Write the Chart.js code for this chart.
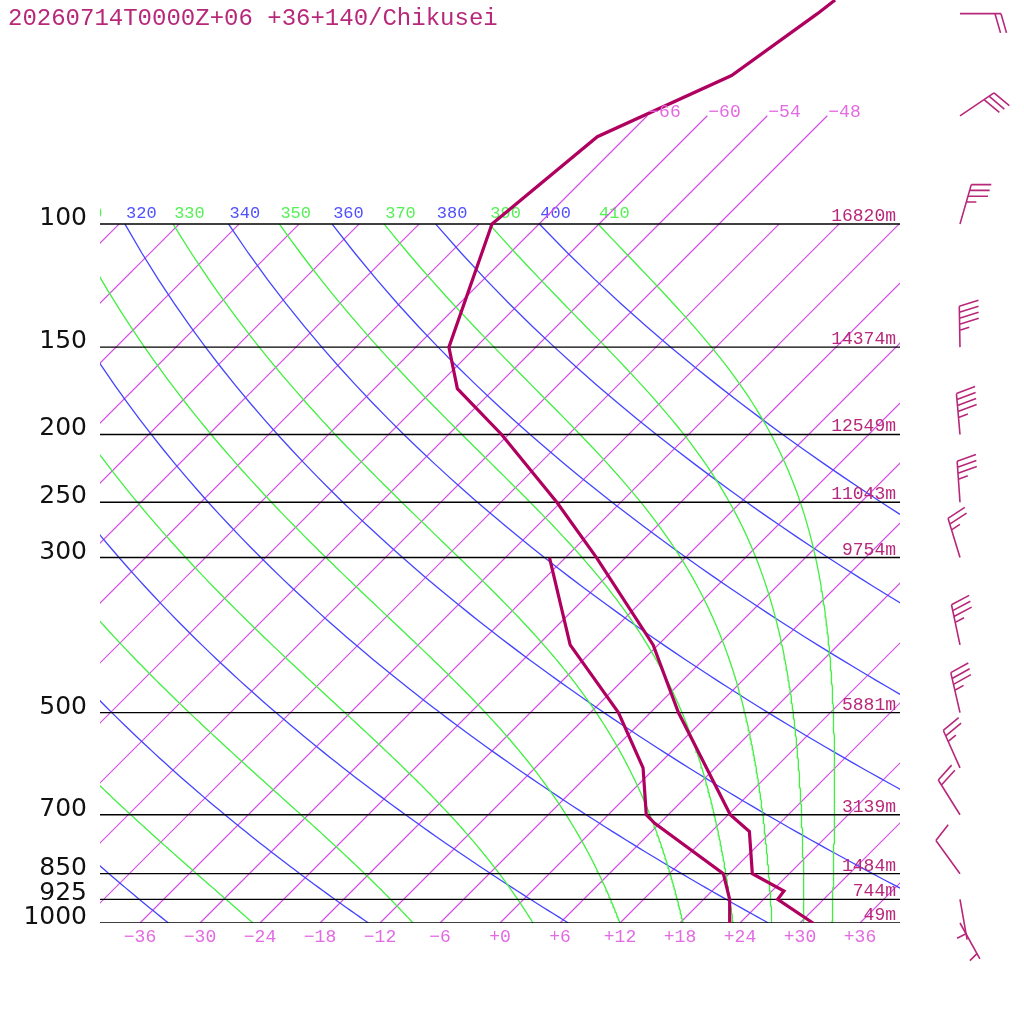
<!DOCTYPE html>
<html>
<head>
<meta charset="utf-8">
<script src="https://cdn.jsdelivr.net/npm/chart.js@4.4.1/dist/chart.umd.min.js"></script>
<style>
  html, body { margin: 0; padding: 0; background: #fff; }
  canvas { display: block; }
</style>
</head>
<body>
<canvas id="skewt" width="1024" height="1024"></canvas>
<script>
const TITLE = "20260714T0000Z+06 +36+140/Chikusei";

// sounding (hPa, degC)
const tempPres = [1000, 925, 900, 850, 740, 700, 500, 400, 300, 250, 200, 172, 150, 100, 75, 61.3, 50, 47.8];
const tempVals = [31.3, 25.4, 25.2, 20.3, 15.8, 12.2, -3.2, -12.5, -26.9, -36.4, -48.7, -57.7, -62.7, -70.7, -68.9, -61.6, -59.2, -58.8];
const dewPres = [1000, 925, 850, 720, 700, 600, 500, 400, 300];
const dewVals = [22.9, 20.6, 17.4, 5.5, 3.8, -1.2, -9.2, -20.8, -31.6];

// levels with heights
const levelPres = [100, 150, 200, 250, 300, 500, 700, 850, 925, 1000];
const levelHeights = ["16820m", "14374m", "12549m", "11043m", "9754m", "5881m", "3139m", "1484m", "744m", "49m"];

// winds (direction deg, speed kt)
const windPres = [50, 70, 100, 150, 200, 250, 300, 400, 500, 600, 700, 850, 925, 1000];
const windDir = [90, 56, 16, 359, 355, 356, 343, 348, 347, 336, 328, 324, 170, 151];
const windKt = [20, 30, 35, 45, 45, 35, 25, 35, 35, 25, 20, 10, 5, 5];

// diagram background
const isoLabels = [-36, -30, -24, -18, -12, -6, 0, 6, 12, 18, 24, 30, 36];
const isoUpper = [-66, -60, -54, -48];
const dryThetas = [240, 260, 280, 300, 320, 340, 360, 380, 400];
const moistLabels = [250, 270, 290, 310, 330, 350, 370, 390, 410];
const moistStart = [-24.7, -8.7, 3.3, 12.0, 18.3, 23.3, 27.2, 30.4, 33.2];

const P0 = 1000;
const PTOP = 47.8;
const SKEW = 699 / (10 * Math.LN10); // 45 degree isotherms

const C_ISO = "#d44ee4";
const C_ISO_TXT = "#e26ae2";
const C_DRY = "#4444ff";
const C_MOIST = "#40f040";
const C_PROFILE = "#b0005f";
const C_MARK = "#b8287a";

function skewX(t, p) {
  return t + SKEW * Math.log(P0 / p);
}

function toPoints(pres, vals) {
  return pres.map((p, i) => ({ x: skewX(vals[i], p), y: p }));
}

function line(points, color, width, order) {
  return {
    data: points, borderColor: color, borderWidth: width, order,
    pointRadius: 0, showLine: true, fill: false, tension: 0
  };
}

function dryAdiabat(theta) {
  const pts = [];
  for (let p = 1000; p >= 100; p -= 10) {
    pts.push({ x: skewX(theta * Math.pow(p / P0, 0.2857) - 273.15, p), y: p });
  }
  return pts;
}

function satMix(tc, p) {
  const es = 6.112 * Math.exp(17.67 * tc / (tc + 243.5));
  return 0.622 * es / (p - es);
}

function moistRate(tk, p) {
  const rs = satMix(tk - 273.15, p);
  const lv = 2.501e6;
  return (287.04 * tk + lv * rs) / (1005.7 + lv * lv * rs * 0.622 / (287.04 * tk * tk));
}

function moistAdiabat(t0) {
  const pts = [];
  let tk = t0 + 273.15;
  for (let p = 1000; p >= 100; p -= 5) {
    pts.push({ x: skewX(tk - 273.15, p), y: p });
    const h = Math.log((p - 5) / p);
    const pm = p * Math.exp(h / 2);
    const k1 = moistRate(tk, p);
    const k2 = moistRate(tk + h / 2 * k1, pm);
    const k3 = moistRate(tk + h / 2 * k2, pm);
    const k4 = moistRate(tk + h * k3, p - 5);
    tk += h / 6 * (k1 + 2 * k2 + 2 * k3 + k4);
  }
  return pts;
}

const datasets = [];
datasets.push(line(toPoints(tempPres, tempVals), C_PROFILE, 3.2, 0));
datasets.push(line(toPoints(dewPres, dewVals), C_PROFILE, 3.2, 1));
levelPres.forEach((p) => datasets.push(line([{ x: -40, y: p }, { x: 40, y: p }], "#000", 1.4, 2)));
const moistLines = moistStart.map((t) => moistAdiabat(t));
moistLines.forEach((pts) => datasets.push(line(pts, C_MOIST, 1.3, 3)));
const dryLines = dryThetas.map((th) => dryAdiabat(th));
dryLines.forEach((pts) => datasets.push(line(pts, C_DRY, 1.3, 4)));
for (let t = -150; t <= 36; t += 6) {
  const top = isoUpper.includes(t) ? 70 : 100;
  datasets.push(line([{ x: skewX(t, 1000), y: 1000 }, { x: skewX(t, top), y: top }], C_ISO, 1.2, 5));
}

function drawBarb(ctx, x, y, dir, kt) {
  const rad = dir * Math.PI / 180;
  const ux = Math.sin(rad), uy = -Math.cos(rad);
  const a = 74 * Math.PI / 180;
  const fx = ux * Math.cos(a) - uy * Math.sin(a);
  const fy = ux * Math.sin(a) + uy * Math.cos(a);
  const len = 41, gap = 6, flen = 20;
  ctx.beginPath();
  ctx.moveTo(x, y);
  ctx.lineTo(x + ux * len, y + uy * len);
  const fulls = Math.floor(kt / 10);
  const half = kt % 10 >= 5;
  let pos = fulls === 0 ? len - gap : len;
  for (let i = 0; i < fulls; i++) {
    const sx = x + ux * pos, sy = y + uy * pos;
    ctx.moveTo(sx, sy);
    ctx.lineTo(sx + fx * flen, sy + fy * flen);
    pos -= gap;
  }
  if (half) {
    const sx = x + ux * pos, sy = y + uy * pos;
    ctx.moveTo(sx, sy);
    ctx.lineTo(sx + fx * flen / 2, sy + fy * flen / 2);
  }
  ctx.stroke();
}

const overlay = {
  id: "overlay",
  beforeDatasetsDraw(chart) {
    const { ctx, chartArea: area, scales: { x, y } } = chart;
    ctx.save();
    ctx.beginPath();
    ctx.rect(area.left, area.top, area.right - area.left, area.bottom - area.top);
    ctx.clip();
    ctx.font = "17px 'Liberation Mono', monospace";
    ctx.textAlign = "left";
    ctx.textBaseline = "alphabetic";
    const yTop = y.getPixelForValue(100) - 6;
    const labels = [];
    dryLines.forEach((pts, i) => labels.push({ pt: pts[pts.length - 1], text: String(dryThetas[i]), color: "#5050ff" }));
    moistLines.forEach((pts, i) => labels.push({ pt: pts[pts.length - 1], text: String(moistLabels[i]), color: "#56f056" }));
    labels.forEach((l) => {
      ctx.fillStyle = l.color;
      ctx.fillText(l.text, x.getPixelForValue(l.pt.x) + 1, yTop);
    });
    ctx.restore();
  },
  afterDraw(chart) {
    const { ctx, chartArea: area, scales: { x, y } } = chart;
    ctx.save();
    ctx.fillStyle = C_MARK;
    ctx.font = "24px 'Liberation Mono', monospace";
    ctx.textBaseline = "alphabetic";
    ctx.textAlign = "left";
    ctx.fillText(TITLE, 8, 25);

    // pressure labels and heights
    levelPres.forEach((p, i) => {
      const py = y.getPixelForValue(p);
      ctx.fillStyle = "#111";
      ctx.font = "25px 'DejaVu Sans', sans-serif";
      ctx.textAlign = "right";
      ctx.fillText(String(p), 87, py + 1);
      ctx.fillStyle = C_MARK;
      ctx.font = "18px 'Liberation Mono', monospace";
      ctx.fillText(levelHeights[i], area.right - 4, py - 3);
    });

    // isotherm labels
    ctx.fillStyle = C_ISO_TXT;
    ctx.font = "18px 'Liberation Mono', monospace";
    ctx.textAlign = "center";
    isoLabels.forEach((t) => {
      const txt = (t < 0 ? "\u2212" : "+") + Math.abs(t);
      ctx.fillText(txt, x.getPixelForValue(skewX(t, 1000)), area.bottom + 19);
    });
    ctx.textAlign = "left";
    isoUpper.forEach((t) => {
      ctx.fillText("\u2212" + Math.abs(t), x.getPixelForValue(skewX(t, 70)) + 1, y.getPixelForValue(70) + 1);
    });

    // wind barbs
    ctx.strokeStyle = C_MARK;
    ctx.lineWidth = 1.6;
    windPres.forEach((p, i) => drawBarb(ctx, 960, y.getPixelForValue(p), windDir[i], windKt[i]));
    ctx.restore();
  }
};

new Chart(document.getElementById("skewt"), {
  type: "scatter",
  data: { datasets },
  options: {
    responsive: false,
    animation: false,
    devicePixelRatio: 1,
    layout: { padding: { left: 100, right: 124, top: 0, bottom: 101 } },
    plugins: { legend: { display: false }, tooltip: { enabled: false } },
    scales: {
      x: { type: "linear", min: -40, max: 40, display: false },
      y: { type: "logarithmic", reverse: true, min: PTOP, max: 1000, display: false }
    }
  },
  plugins: [overlay]
});
</script>
</body>
</html>
